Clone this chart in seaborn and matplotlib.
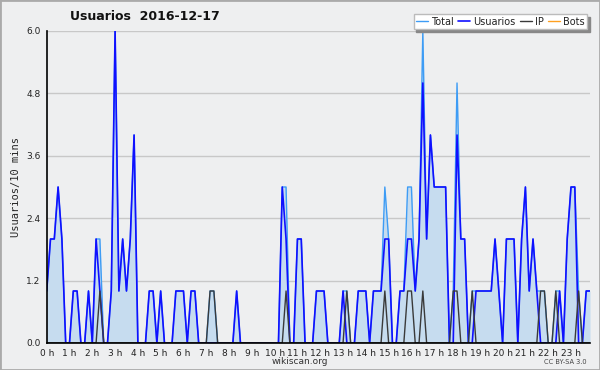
import matplotlib
matplotlib.use("Agg")
import matplotlib.pyplot as plt
import numpy as np
import pandas as pd
import seaborn as sns
from matplotlib.ticker import FixedLocator, MultipleLocator
from matplotlib.patches import Rectangle

# ---- data (10-minute slots over the day) ----
usuarios = [1,2,2,3,2,0,0,1,1,0,0,1,
            0,2,1,0,0,1,6,1,2,1,2,4,
            0,0,0,1,1,0,1,0,0,0,1,1,
            1,0,1,1,0,0,0,0,0,0,0,0,
            0,0,1,0,0,0,0,0,0,0,0,0,
            0,0,3,2,0,0,2,2,0,0,0,1,
            1,1,0,0,0,0,1,0,0,0,1,1,
            1,0,1,1,1,2,2,0,0,1,1,2,
            2,1,2,5,2,4,3,3,3,3,0,0,
            4,2,2,0,0,1,1,1,1,1,2,1,
            0,2,2,2,0,2,3,1,2,1,0,0,
            0,0,0,1,0,2,3,3,0,0,1,1]
total = [1,2,2,3,2,0,0,1,1,0,0,1,
         0,2,2,0,0,1,6,1,2,1,2,4,
         0,0,0,1,1,0,1,0,0,0,1,1,
         1,0,1,1,0,0,0,1,1,0,0,0,
         0,0,1,0,0,0,0,0,0,0,0,0,
         0,0,3,3,0,0,2,2,0,0,0,1,
         1,1,0,0,0,0,1,1,0,0,1,1,
         1,0,1,1,1,3,2,0,0,1,1,3,
         3,1,2,6,2,4,3,3,3,3,0,1,
         5,2,2,0,1,1,1,1,1,1,2,1,
         0,2,2,2,0,2,3,1,2,1,1,1,
         0,0,1,1,0,2,3,3,1,0,1,1]
ip = [0,0,0,0,0,0,0,0,0,0,0,0,
      0,0,1,0,0,0,0,0,0,0,0,0,
      0,0,0,0,0,0,0,0,0,0,0,0,
      0,0,0,0,0,0,0,1,1,0,0,0,
      0,0,0,0,0,0,0,0,0,0,0,0,
      0,0,0,1,0,0,0,0,0,0,0,0,
      0,0,0,0,0,0,0,1,0,0,0,0,
      0,0,0,0,0,1,0,0,0,0,0,1,
      1,0,0,1,0,0,0,0,0,0,0,1,
      1,0,0,0,1,0,0,0,0,0,0,0,
      0,0,0,0,0,0,0,0,0,0,1,1,
      0,0,1,0,0,0,0,0,1,0,0,0]
bots = [0] * 144
hour_labels = ["0 h","1 h","2 h","3 h","4 h","5 h","6 h","7 h","8 h","9 h",
               "10 h","11 h","12 h","13 h","14 h","15 h","16 h","17 h","18 h",
               "19 h","20 h","21 h","22 h","23 h"]

slot = np.arange(len(total))
df = pd.DataFrame({"slot": slot, "Total": total, "Usuarios": usuarios,
                   "IP": ip, "Bots": bots})

BG = "#eeeff0"
sns.set_style("white")
plt.rcParams["font.family"] = ["DejaVu Sans"]

fig = plt.figure(figsize=(6.0, 3.7), dpi=100, facecolor=BG)
ax = fig.add_axes([46.7/600, 1-343/370, (590-46.7)/600, (343-31)/370])
ax.set_facecolor(BG)

ax.fill_between(df["slot"], df["Total"], 0, color="#c6dcef", linewidth=0, zorder=1)
sns.lineplot(data=df, x="slot", y="Total", ax=ax, color="#3d9cf5", linewidth=1.0,
             label="Total", zorder=3)
sns.lineplot(data=df, x="slot", y="Usuarios", ax=ax, color="#1010ff", linewidth=1.2,
             label="Usuarios", zorder=4)
sns.lineplot(data=df, x="slot", y="IP", ax=ax, color="#3a3a3a", linewidth=1.0,
             label="IP", zorder=5)
sns.lineplot(data=df, x="slot", y="Bots", ax=ax, color="#ffa020", linewidth=1.0,
             label="Bots", zorder=2)

ax.set_xlim(0, 143)
ax.set_ylim(0, 6.0)

ax.yaxis.set_major_locator(FixedLocator([0, 1.2, 2.4, 3.6, 4.8, 6.0]))
ax.yaxis.set_minor_locator(MultipleLocator(0.3))
ax.set_yticklabels(["0.0", "1.2", "2.4", "3.6", "4.8", "6.0"])
ax.xaxis.set_major_locator(FixedLocator(list(range(0, 144, 6))))
ax.xaxis.set_minor_locator(MultipleLocator(1))
ax.set_xticklabels(hour_labels)

ax.tick_params(axis="both", which="major", direction="out", length=3.5, width=1,
               labelsize=6.5, pad=1, colors="black", labelcolor="#222222")
ax.tick_params(axis="both", which="minor", direction="out", length=2.5, width=1,
               colors="black")
ax.yaxis.grid(True, which="major", color="#c8c8c8", linewidth=1.0)
ax.xaxis.grid(False)
ax.set_axisbelow(True)

for s in ["top", "right"]:
    ax.spines[s].set_visible(False)
for s in ["left", "bottom"]:
    ax.spines[s].set_color("black")
    ax.spines[s].set_linewidth(1.2)
    ax.spines[s].set_zorder(6)

ax.set_xlabel("")
ax.set_ylabel("Usuarios/10 mins", fontsize=7.5, family="DejaVu Sans Mono",
              labelpad=4)

leg = ax.legend(loc="upper right", bbox_to_anchor=(0.995, 1.053), ncol=4,
                frameon=True, shadow={"color": "#888888", "alpha": 1.0,
                                      "ox": 2, "oy": -2},
                fancybox=False, fontsize=7, handlelength=1.2,
                columnspacing=0.45, handletextpad=0.35, borderpad=0.25,
                borderaxespad=0.0)
leg.get_frame().set_edgecolor("#bbbbbb")
leg.get_frame().set_facecolor("white")
leg.get_frame().set_linewidth(1.0)
for t in leg.get_texts():
    t.set_color("#222222")

fig.text(145/600, 1-17/370, "Usuarios  2016-12-17", ha="center", va="center",
         fontsize=9, fontweight="bold", color="#111111")
fig.text(300/600, 1-362/370, "wikiscan.org", ha="center", va="center",
         fontsize=6.5, color="#333333")
fig.text(565/600, 1-362/370, "CC BY-SA 3.0", ha="center", va="center",
         fontsize=4.8, color="#444444")

fig.patches.append(Rectangle((0, 0), 1, 1, transform=fig.transFigure,
                             fill=False, edgecolor="#aaaaaa", linewidth=2))

fig.savefig("out.png", dpi=100, facecolor=BG)
